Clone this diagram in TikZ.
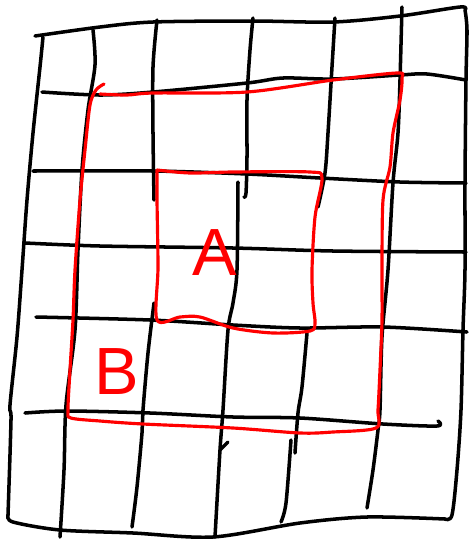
\documentclass[tikz,border=0pt]{standalone}
\usepackage{fontspec}
\setsansfont{Liberation Sans}
\begin{document}
\begin{tikzpicture}[
    x=0.02cm, y=-0.02cm,
    gridline/.style={draw=black, line width=2pt, line cap=round, line join=round},
    frame/.style={draw=red, line width=1.8pt, line cap=round, line join=round},
    letter/.style={text=red, font=\sffamily\fontsize{38}{38}\selectfont, inner sep=0pt}
  ]
  \useasboundingbox (0,0) rectangle (472,539);

  % Outer border of the grid
  \draw[gridline] plot[smooth] coordinates {(35,36) (100,27) (153,22) (253,21) (333,22) (400,16) (460,7) (465,10)};
  \draw[gridline] plot[smooth] coordinates {(465,10) (467,30) (466,80) (465,183) (465,270) (463,330) (461,410) (457,470) (452,515) (445,519)};
  \draw[gridline] plot[smooth] coordinates {(445,519) (367,517) (300,523) (213,537) (133,533) (60,530) (13,522) (8,515)};
  \draw[gridline] plot[smooth] coordinates {(43,37) (40,67) (33,133) (27,200) (22,270) (17,337) (10,405) (11,420) (8,515)};

  % Horizontal lines
  \draw[gridline] plot[smooth] coordinates {(42,92) (100,95) (153,92) (247,83) (283,78) (333,79) (400,75) (427,74) (466,80)};
  \draw[gridline] plot[smooth] coordinates {(33,171) (153,171) (247,174) (320,178) (400,182) (466,183)};
  \draw[gridline] plot[smooth] coordinates {(25,243) (100,246) (233,248) (333,251) (466,252)};
  \draw[gridline] plot[smooth] coordinates {(36,317) (150,320) (233,325) (300,328) (383,327) (467,332)};
  \draw[gridline] plot[smooth] coordinates {(25,413) (67,411) (150,413) (233,417) (300,418) (383,424) (437,426) (438,421)};

  % Vertical lines
  \draw[gridline] plot[smooth] coordinates {(93,30) (95,65) (88,110) (82,170) (78,250) (75,330) (66,405) (64,470) (60,537)};
  \draw[gridline] plot[smooth] coordinates {(157,20) (153,67) (153,133) (154,200)};
  \draw[gridline] plot[smooth] coordinates {(154,303) (148,353) (143,410) (142,433) (137,487) (132,527)};
  \draw[gridline] plot[smooth] coordinates {(253,18) (250,50) (247,100) (247,157) (246,193) (244,197)};
  \draw[gridline] plot[smooth] coordinates {(238,182) (237,270) (233,303) (228,330) (223,410) (220,450) (215,537)};
  \draw[gridline] (220,450) -- (228,442);
  \draw[gridline] plot[smooth] coordinates {(335,18) (332,67) (328,133) (325,173) (318,207)};
  \draw[gridline] plot[smooth] coordinates {(307,333) (302,387) (298,413) (295,453)};
  \draw[gridline] plot[smooth] coordinates {(291,440) (286,503) (281,522)};
  \draw[gridline] plot[smooth] coordinates {(402,7) (400,80) (398,133) (393,183) (388,270) (382,337) (380,410) (378,430) (373,470) (367,508)};

  % Red region B
  \draw[frame] plot[smooth, tension=0.5] coordinates {(104,84) (96,90) (90,105) (85,150) (80,200) (75,270) (73,320) (70,370) (68,410) (71,418) (100,421) (143,424) (233,428) (300,433) (333,432) (376,428) (378,410) (380,370) (382,320) (382,270) (383,200) (390,167) (393,133) (400,100) (402,78) (397,73) (333,80) (247,92) (153,93) (127,95) (100,94)};

  % Red region A
  \draw[frame] plot[smooth, tension=0.5] coordinates {(157,170) (190,173) (233,172) (310,172) (322,178) (315,217) (312,270) (313,303) (315,323) (310,331) (273,333) (233,328) (200,317) (180,317) (157,320) (158,267) (157,200) (157,170)};

  % Labels
  \node[letter] (labelA) at (215,253) {A};
  \node[letter] (labelB) at (117,372) {B};
\end{tikzpicture}
\end{document}
